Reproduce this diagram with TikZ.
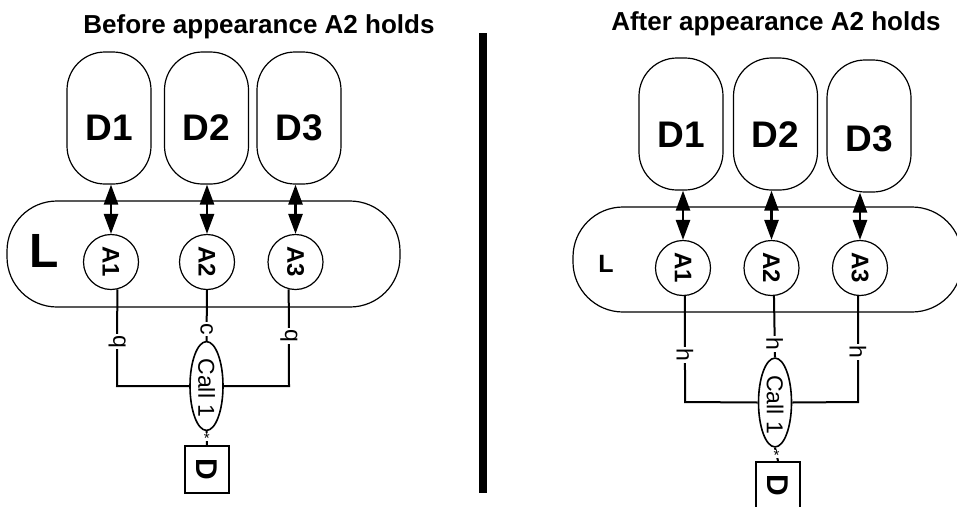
\documentclass[tikz,border=0pt]{standalone}
\usepackage{fontspec}
\usepackage{graphicx}
\setmainfont{Liberation Sans}
\usetikzlibrary{arrows.meta,shapes.geometric,calc}
\newcommand{\myfs}[1]{\fontsize{#1}{#1}\selectfont}
\newcommand{\rt}[1]{\rotatebox{-90}{#1}}
\begin{document}
\begin{tikzpicture}[x=1pt,y=-1pt,
  dbox/.style={draw,line width=1.2pt,rectangle,rounded corners=38pt,minimum width=84pt,minimum height=132pt,inner sep=0pt},
  dtxt/.style={font=\myfs{37}\bfseries,inner sep=0pt},
  lbox/.style={draw,line width=1.2pt,rectangle,rounded corners=50pt,minimum height=106pt,inner sep=0pt},
  anode/.style={draw,circle,line width=1.2pt,minimum size=55pt,inner sep=0pt,font=\myfs{24}\bfseries},
  callnode/.style={draw,ellipse,line width=1.6pt,minimum width=33pt,minimum height=62pt,inner sep=0pt,font=\myfs{23}},
  termbox/.style={draw,rectangle,line width=2pt,minimum width=44pt,minimum height=47pt,inner sep=0pt,font=\myfs{30}\bfseries},
  dbl/.style={line width=2.6pt,{Triangle[length=20pt,width=14pt]}-{Triangle[length=20pt,width=14pt]}},
  wire/.style={line width=2pt},
  lab/.style={fill=white,inner sep=1.5pt,font=\myfs{23}},
  star/.style={fill=white,inner xsep=2pt,inner ysep=0pt,font=\myfs{15},text height=4pt,text depth=4pt},
  ttl/.style={font=\myfs{26}\bfseries}
]
\useasboundingbox (0,0) rectangle (957,506);
\clip (0,0) rectangle (957,506);
\fill[white] (0,0) rectangle (957,506);

% ---------- left panel ----------
\node[ttl] (t1) at (259,27) {Before appearance A2 holds};
\node[dbox,label={[dtxt,yshift=-10pt]center:D1}] (lD1) at (109,118) {};
\node[dbox,label={[dtxt,yshift=-10pt]center:D2}] (lD2) at (206.5,118) {};
\node[dbox,label={[dtxt,yshift=-10pt]center:D3}] (lD3) at (299,118) {};
\node[lbox,minimum width=393pt] (lL) at (203.5,254) {};
\node[font=\myfs{48}\bfseries,inner sep=0pt] (lLt) at (44.5,251) {L};
\node[anode] (lA1) at (111,262) {\rt{A1}};
\node[anode] (lA2) at (207,262) {\rt{A2}};
\node[anode] (lA3) at (295.5,262) {\rt{A3}};
\draw[dbl] (lA1.north |- lD1.south) -- (lA1.north);
\draw[dbl] (lA2.north |- lD2.south) -- (lA2.north);
\draw[dbl] (lA3.north |- lD3.south) -- (lA3.north);
\node[callnode] (lC) at (206.5,386) {\raisebox{-4pt}{\rt{Call 1}}};
\node[termbox] (lT) at (207,469.5) {\rt{D}};
\coordinate (lj1) at (117,386);
\coordinate (lj3) at (289,386);
\draw[wire] (lA1.-77) -- node[lab,pos=0.54]{\rt{q}} (lj1) -- (lC.west);
\draw[wire] (lA3.-104) -- node[lab,pos=0.48]{\rt{q}} (lj3) -- (lC.east);
\draw[wire] (lA2.south) -- node[lab,pos=0.77]{\rt{c}} (lC.north);
\draw[wire] (lC.south) -- node[star,pos=0.45]{\raisebox{-6pt}{*}} (lT.north);

% ---------- divider ----------
\fill[black] (479,33) rectangle (487,493);

% ---------- right panel ----------
\node[ttl] (t2) at (776,24) {After appearance A2 holds};
\node[dbox,label={[dtxt,yshift=-11pt]center:D1}] (rD1) at (681,124) {};
\node[dbox,label={[dtxt,yshift=-11pt]center:D2}] (rD2) at (775.5,124) {};
\node[dbox,label={[dtxt,yshift=-13pt]center:D3}] (rD3) at (869,126) {};
\node[lbox,minimum width=389pt,minimum height=105pt] (rL) at (767.5,259.5) {};
\node[font=\myfs{25}\bfseries,inner sep=0pt] (rLt) at (606,264) {L};
\node[anode] (rA1) at (683,268) {\rt{A1}};
\node[anode] (rA2) at (771.5,268) {\rt{A2}};
\node[anode] (rA3) at (860,268) {\rt{A3}};
\draw[dbl] (rA1.north |- rD1.south) -- (rA1.north);
\draw[dbl] (rA2.north |- rD2.south) -- (rA2.north);
\draw[dbl] (rA3.north |- rD3.south) -- (rA3.north);
\node[callnode] (rC) at (775,402.5) {\raisebox{-4pt}{\rt{Call 1}}};
\node[termbox] (rT) at (778,485.5) {\rt{D}};
\coordinate (rj1) at (685,402);
\coordinate (rj3) at (858,402);
\draw[wire] (rA1.-86) -- node[lab,pos=0.56]{\rt{h}} (rj1) -- (rC.west);
\draw[wire] (rA3.-94) -- node[lab,pos=0.53]{\rt{h}} (rj3) -- (rC.east);
\draw[wire] (rA2.-85) -- node[lab,pos=0.78]{\rt{h}} (rC.north);
\draw[wire] (rC.south) -- node[star,pos=0.48]{\raisebox{-6pt}{*}} (rT.north);
\end{tikzpicture}
\end{document}
